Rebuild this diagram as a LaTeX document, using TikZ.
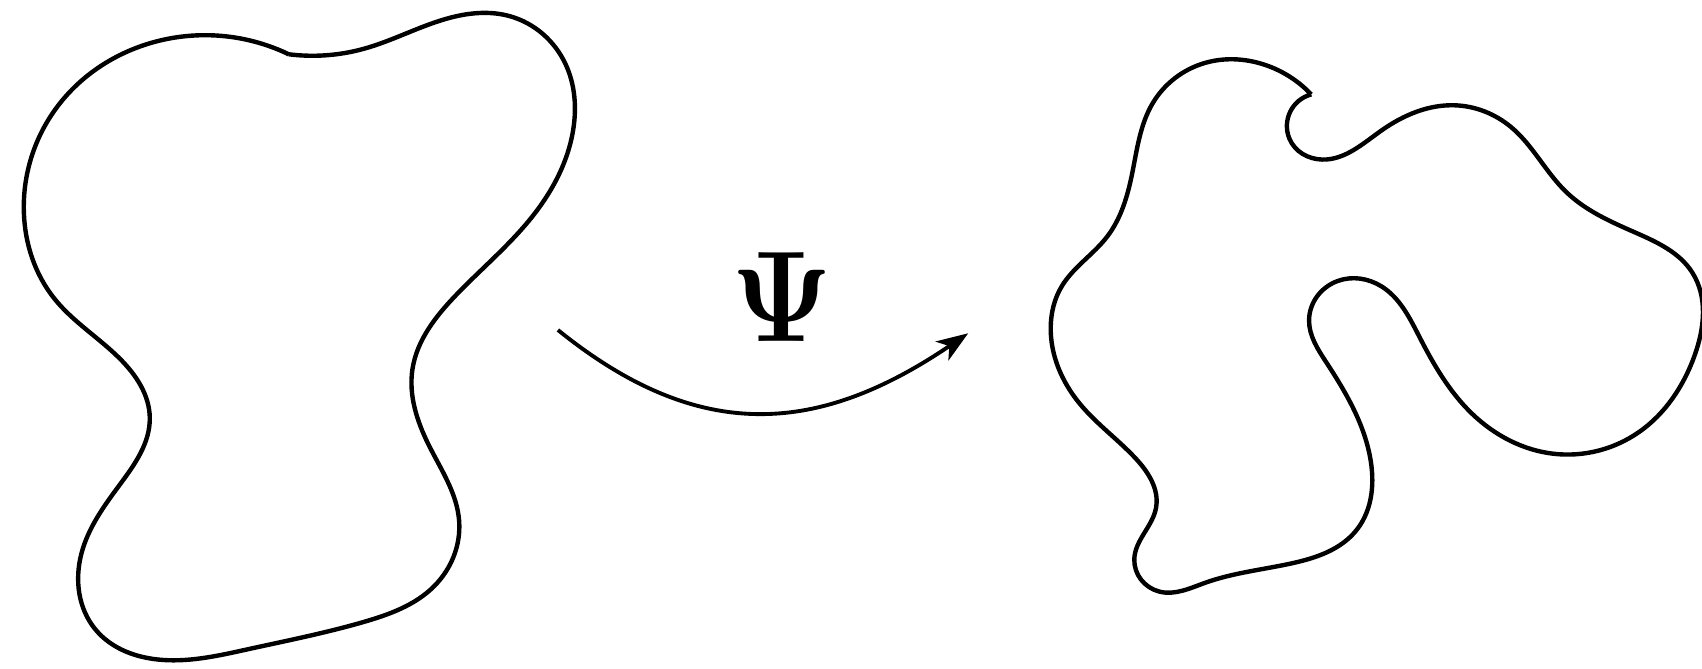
\documentclass[tikz,border=0pt]{standalone}
\usetikzlibrary{arrows.meta,hobby}
\begin{document}
\begin{tikzpicture}[x=0.010855cm,y=-0.010855cm,
  blob/.style={line width=1.25pt,line join=round,use Hobby shortcut},
  maparrow/.style={line width=1.1pt,-{Stealth[length=9pt,width=6.5pt,inset=2.5pt]}}]
\useasboundingbox (0,0) rectangle (1568,616);
% left domain
\draw[blob] (266,50) .. (335,45) .. (416,16) .. (470,15) .. (521,59)
 .. (528,120) .. (490,200) .. (420,272) .. (380,340) .. (395,410)
 .. (423,480) .. (400,540) .. (335,573) .. (229,598) .. (150,608)
 .. (88,580) .. (75,510) .. (110,447) .. (138,385) .. (110,330)
 .. (50,275) .. (22,196) .. (53,98) .. (141,39) .. (229,37) .. (266,50);
% right domain
\draw[blob] (1208,87) .. (1163,59) .. (1110,58) .. (1062,95) .. (1043,160)
 .. (1020,218) .. (978,264) .. (968,301) .. (994,371) .. (1045,421)
 .. (1065,468) .. (1045,515) .. (1068,545) .. (1110,537) .. (1190,519)
 .. (1250,488) .. (1262,420) .. (1222,334) .. (1206,295) .. (1232,259)
 .. (1273,264) .. (1308,311) .. (1356,381) .. (1431,418) .. (1510,398)
 .. (1561,328) .. (1559,251) .. (1506,214) .. (1443,177) .. (1392,117)
 .. (1340,97) .. (1273,120) .. (1218,147) .. (1188,128) .. (1208,87);
% mapping arrow
\coordinate (src) at (514,304);
\coordinate (dst) at (892,307);
\draw[maparrow] (src) .. controls (645,410) and (755,400) .. (dst);
\node[xscale=1.32,yscale=1.48] (psi) at (720,274) {\Huge$\mathbf{\Psi}$};
\end{tikzpicture}
\end{document}
